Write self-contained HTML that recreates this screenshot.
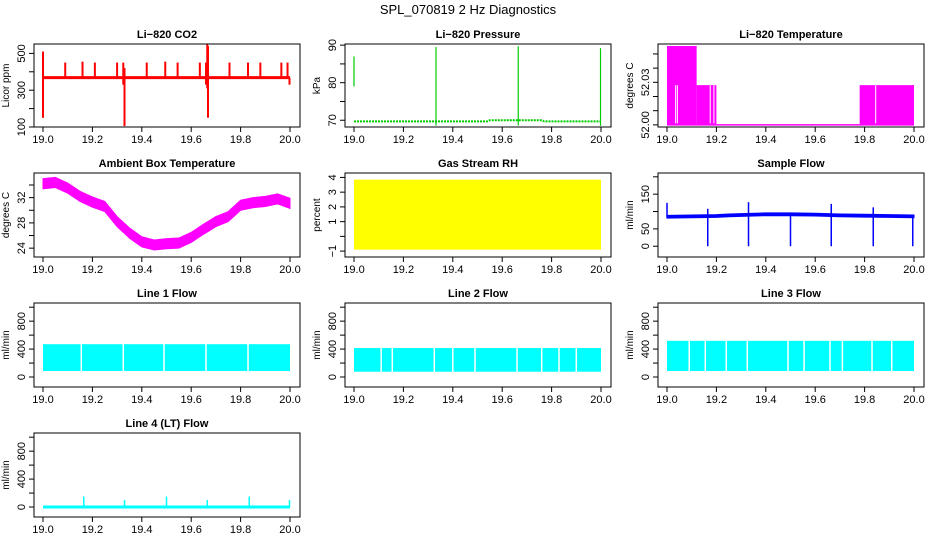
<!DOCTYPE html>
<html><head><meta charset="utf-8"><style>
body{margin:0;background:#fff}
svg{display:block;font-family:"Liberation Sans",Arial,sans-serif}
</style></head><body>
<svg id="c" width="936" height="540" viewBox="0 0 936 540" xmlns="http://www.w3.org/2000/svg">
<rect width="936" height="540" fill="#fff"/>
<text x="468" y="14" text-anchor="middle" font-size="13">SPL_070819  2 Hz Diagnostics</text>
</svg>
<script>
const xTicks=[19.0,19.2,19.4,19.6,19.8,20.0];
const xTickLabels=["19.0","19.2","19.4","19.6","19.8","20.0"];
// CO2
const co2Base=368;
const co2SpikeX=[19.0,19.09,19.16,19.21,19.30,19.325,19.33,19.42,19.495,19.545,19.635,19.66,19.665,19.668,19.755,19.83,19.88,19.965,19.99,19.998];
const co2SpikeLo=[150,368,368,368,368,330,105,368,368,368,368,330,310,150,368,368,368,368,368,330];
const co2SpikeHi=[510,450,455,450,450,450,420,450,455,450,450,450,550,540,450,450,450,450,450,368];
// Pressure
const presX=[19.0,19.33,19.34,19.54,19.55,19.67,19.68,19.76,19.77,20.0];
const presY=[69.7,69.7,69.7,69.7,70.0,70.0,70.0,70.0,69.7,69.7];
const presSpikeX=[19.0,19.332,19.665,19.998];
const presSpikeLo=[79,68.6,68.6,68.5];
const presSpikeHi=[87,89.5,89.7,89.2];
// Li-820 temperature
const tempX0=[19.0,19.12,19.78];
const tempX1=[19.12,19.2,20.0];
const tempTop=[52.0556,52.028,52.028];
const tempBase=52.0;
const tempGaps=[19.035,19.042,19.175,19.19,19.845];
// Ambient
const ambX=[19.0,19.05,19.1,19.15,19.2,19.25,19.3,19.35,19.4,19.45,19.5,19.55,19.6,19.65,19.7,19.75,19.8,19.85,19.9,19.95,20.0];
const ambMid=[34.2,34.4,33.5,32.2,31.3,30.6,28.2,26.4,25.0,24.5,24.7,24.8,25.7,27.0,28.2,29.0,30.8,31.2,31.4,31.8,31.1];
const ambHalf=0.8;
// Gas RH
const rhLo=-0.9, rhHi=3.85;
// Sample flow
const sfX=[19.0,19.1,19.2,19.25,19.3,19.4,19.5,19.6,19.7,19.8,19.9,20.0];
const sfVal=[85,86,87,89,90,92,92,91,89,88,87,86];
const sfDropX=[19.0,19.165,19.33,19.5,19.665,19.835,19.995];
const sfDropLo=[82,0,0,0,0,0,0];
const sfDropHi=[125,108,127,95,122,112,88];
// Line flows
const l1Lo=86, l1Hi=470, l1Gaps=[19.155,19.325,19.49,19.66,19.83];
const l2Lo=76, l2Hi=415, l2Gaps=[19.11,19.155,19.325,19.40,19.49,19.66,19.76,19.83,19.9];
const l3Lo=86, l3Hi=518, l3Gaps=[19.09,19.155,19.24,19.325,19.49,19.555,19.66,19.71,19.83,19.91];
const l4Base=0;
const l4SpikeX=[19.165,19.33,19.5,19.665,19.835,19.998];
const l4SpikeHi=[150,100,150,100,150,100];

const NS="http://www.w3.org/2000/svg";
const svg=document.getElementById('c');
const colL=[34,345,658], colR=[300,611,924];
const rowT=[44,173,303,433], rowB=[127,257,387,517];
function mk(tag,attrs,parent){const e=document.createElementNS(NS,tag);for(const k in attrs)e.setAttribute(k,attrs[k]);(parent||svg).appendChild(e);return e;}

function panel(col,row,title,ylab,y0,y1,yt,ytl,slug,draw){
  const L=colL[col],R=colR[col],T=rowT[row],B=rowB[row];
  const g=mk('g',{});
  
  
  const sx=v=>L+9+(v-19)*(R-L-19);
  const sy=v=>B-(v-y0)/(y1-y0)*(B-T);
  const plot=mk('g',{},g);
  
  
  draw(sx,sy,plot);
  const box=mk('rect',{x:L,y:T,width:R-L,height:B-T,fill:'none',stroke:'#000','stroke-width':1},g);
  
  
  const t=mk('text',{x:(L+R)/2,y:T-6,'text-anchor':'middle','font-size':11,'font-weight':'bold'},g);
  t.textContent=title;
  
  
  const xa=mk('g',{},g);
  
  
  mk('line',{x1:sx(19),x2:sx(20),y1:B,y2:B,stroke:'#000'},xa);
  xTicks.forEach((v,i)=>{
    mk('line',{x1:sx(v),x2:sx(v),y1:B,y2:B+5,stroke:'#000'},xa);
    const tx=mk('text',{x:sx(v),y:B+16,'text-anchor':'middle','font-size':11},xa);
    tx.textContent=xTickLabels[i];
    
    
  });
  const ya=mk('g',{},g);
  
  
  mk('line',{x1:L,x2:L,y1:sy(yt[0]),y2:sy(yt[yt.length-1]),stroke:'#000'},ya);
  yt.forEach((v,i)=>{
    mk('line',{x1:L-5,x2:L,y1:sy(v),y2:sy(v),stroke:'#000'},ya);
    if(ytl[i]){
      const tx=mk('text',{x:L-9,y:sy(v),'text-anchor':'middle','font-size':11,transform:`rotate(-90 ${L-9} ${sy(v)})`},ya);
      tx.textContent=ytl[i];
      
      
    }
  });
  const yl=mk('text',{x:L-25,y:(T+B)/2,'text-anchor':'middle','font-size':10,transform:`rotate(-90 ${L-25} ${(T+B)/2})`},g);
  yl.textContent=ylab;
  
  
}
function vline(p,x,ya,yb,c,w){return mk('line',{x1:x,x2:x,y1:ya,y2:yb,stroke:c,'stroke-width':w||1.3},p);}

panel(0,0,'Li\u2212820 CO2','Licor ppm',100,551,[100,200,300,400,500],['100','','300','','500'],'co2',(sx,sy,p)=>{
  mk('line',{x1:sx(19),x2:sx(20),y1:sy(co2Base),y2:sy(co2Base),stroke:'red','stroke-width':3},p);
  co2SpikeX.forEach((x,i)=>vline(p,sx(x),sy(co2SpikeLo[i]),sy(co2SpikeHi[i]),'red',2));
});
panel(1,0,'Li\u2212820 Pressure','kPa',68.2,90.3,[70,75,80,85,90],['70','','80','','90'],'pressure',(sx,sy,p)=>{
  mk('polyline',{points:presX.map((x,i)=>sx(x)+','+sy(presY[i])).join(' '),fill:'none',stroke:'#00cc00','stroke-width':2,'stroke-dasharray':'2 1'},p);
  presSpikeX.forEach((x,i)=>vline(p,sx(x),sy(presSpikeLo[i]),sy(presSpikeHi[i]),'#00cc00',1.2));
});
panel(2,0,'Li\u2212820 Temperature','degrees C',51.9985,52.057,[52.00,52.01,52.02,52.03,52.04,52.05],['52.00','','','52.03','',''],'li820-temperature',(sx,sy,p)=>{
  mk('line',{x1:sx(19),x2:sx(20),y1:sy(tempBase),y2:sy(tempBase),stroke:'#f0f','stroke-width':1.5},p);
  tempX0.forEach((x,i)=>mk('rect',{x:sx(x),y:sy(tempTop[i]),width:sx(tempX1[i])-sx(x),height:sy(tempBase)-sy(tempTop[i]),fill:'#f0f'},p));
  tempGaps.forEach(x=>vline(p,sx(x),sy(52.028),sy(tempBase)-1.5,'#fff',1));
});
panel(0,1,'Ambient Box Temperature','degrees C',22.6,35.9,[24,26,28,30,32,34],['24','','28','','32',''],'ambient-temperature',(sx,sy,p)=>{
  const up=ambX.map((x,i)=>sx(x)+','+sy(ambMid[i]+ambHalf));
  const dn=ambX.map((x,i)=>sx(x)+','+sy(ambMid[i]-ambHalf)).reverse();
  mk('polygon',{points:up.concat(dn).join(' '),fill:'#f0f',stroke:'#f0f','stroke-width':1},p);
});
panel(1,1,'Gas Stream RH','percent',-1.4,4.3,[-1,0,1,2,3,4],['\u22121','','1','2','3','4'],'gas-rh',(sx,sy,p)=>{
  mk('rect',{x:sx(19),y:sy(rhHi),width:sx(20)-sx(19),height:sy(rhLo)-sy(rhHi),fill:'#ffff00'},p);
});
panel(2,1,'Sample Flow','ml/min',-31,211,[0,50,100,150,200],['0','50','','150',''],'sample-flow',(sx,sy,p)=>{
  const up=sfX.map((x,i)=>sx(x)+','+sy(sfVal[i]+4));
  const dn=sfX.map((x,i)=>sx(x)+','+sy(sfVal[i]-4)).reverse();
  mk('polygon',{points:up.concat(dn).join(' '),fill:'#0000ff',stroke:'#0000ff'},p);
  sfDropX.forEach((x,i)=>vline(p,sx(x),sy(sfDropLo[i]),sy(sfDropHi[i]),'#0000ff',1.5));
});
function flowPanel(col,row,title,slug,lo,hi,gaps){
  panel(col,row,title,'ml/min',-143,1060,[0,200,400,600,800,1000],['0','','400','','800',''],slug,(sx,sy,p)=>{
    mk('rect',{x:sx(19),y:sy(hi),width:sx(20)-sx(19),height:sy(lo)-sy(hi),fill:'#00ffff'},p);
    gaps.forEach(x=>vline(p,sx(x),sy(hi)-1,sy(lo)+1,'#fff',1.5));
  });
}
flowPanel(0,2,'Line 1 Flow','line1-flow',l1Lo,l1Hi,l1Gaps);
flowPanel(1,2,'Line 2 Flow','line2-flow',l2Lo,l2Hi,l2Gaps);
flowPanel(2,2,'Line 3 Flow','line3-flow',l3Lo,l3Hi,l3Gaps);
panel(0,3,'Line 4 (LT) Flow','ml/min',-143,1060,[0,200,400,600,800,1000],['0','','400','','800',''],'line4-flow',(sx,sy,p)=>{
  mk('line',{x1:sx(19),x2:sx(20),y1:sy(l4Base),y2:sy(l4Base),stroke:'#00ffff','stroke-width':3},p);
  l4SpikeX.forEach((x,i)=>vline(p,sx(x),sy(l4Base),sy(l4SpikeHi[i]),'#00ffff',1.5));
});
</script>
</body></html>
